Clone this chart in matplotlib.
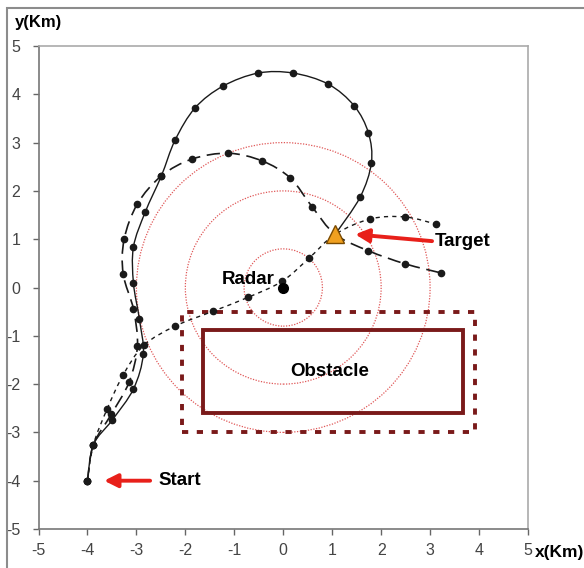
import matplotlib
matplotlib.use("Agg")
from matplotlib import pyplot as plt
from matplotlib.patches import Rectangle, Circle, PathPatch
from matplotlib.path import Path
import numpy as np

plt.rcParams['font.family'] = ['Liberation Sans', 'DejaVu Sans']
plt.rcParams['axes.unicode_minus'] = False

# trajectories (km)
path_solid_x = [-4.0, -3.88, -3.49, -3.06, -2.86, -2.94, -3.06, -3.06, -2.82, -2.49, -2.21, -1.80,
                -1.23, -0.51, 0.20, 0.92, 1.45, 1.74, 1.80, 1.57, 1.06]
path_solid_y = [-4.0, -3.26, -2.74, -2.10, -1.38, -0.65, 0.09, 0.84, 1.56, 2.31, 3.05, 3.72,
                4.17, 4.44, 4.44, 4.21, 3.76, 3.20, 2.58, 1.87, 1.10]

path_dash_x = [-4.0, -3.88, -3.51, -3.15, -2.98, -3.06, -3.27, -3.25, -2.98, -2.49, -1.86, -1.12,
               -0.43, 0.14, 0.59, 1.06, 1.74, 2.49, 3.23]
path_dash_y = [-4.0, -3.26, -2.62, -1.96, -1.21, -0.45, 0.28, 1.00, 1.73, 2.31, 2.66, 2.78,
               2.62, 2.27, 1.67, 1.10, 0.76, 0.49, 0.30]

path_dot_x = [-4.0, -3.88, -3.60, -3.27, -2.85, -2.21, -1.43, -0.71, -0.02, 0.53, 1.06, 1.78, 2.49, 3.13]
path_dot_y = [-4.0, -3.26, -2.52, -1.81, -1.20, -0.80, -0.49, -0.20, 0.13, 0.61, 1.10, 1.42, 1.46, 1.31]

radar = (0.0, 0.0)
target = (1.06, 1.10)
circle_radii = [0.8, 2.0, 3.0]

obstacle = (-1.64, -2.60, 3.67, -0.87)      # x0, y0, x1, y1
safety_zone = (-2.07, -3.0, 3.91, -0.51)


def smooth_path(xs, ys):
    # Excel-like smoothed line: cubic Bezier segments through the points
    p = np.column_stack([xs, ys])
    verts = [p[0]]
    codes = [Path.MOVETO]
    for i in range(len(p) - 1):
        p0 = p[i - 1] if i > 0 else p[i]
        p3 = p[i + 2] if i + 2 < len(p) else p[i + 1]
        c1 = p[i] + (p[i + 1] - p0) / 6.0
        c2 = p[i + 1] - (p3 - p[i]) / 6.0
        verts += [c1, c2, p[i + 1]]
        codes += [Path.CURVE4] * 3
    return Path(verts, codes)


fig = plt.figure(figsize=(5.84, 5.68), dpi=100)
# chart area frame (Excel style)
fig.patches.append(Rectangle((7 / 584, -0.1), 1.2, 1 - 8 / 568 + 0.1, transform=fig.transFigure,
                             fill=False, edgecolor='#8c8c8c', linewidth=1.5))
ax = fig.add_axes([38.5 / 584, 1 - 529 / 568, (528 - 38.5) / 584, (529 - 46) / 568])

ax.set_xlim(-5, 5)
ax.set_ylim(-5, 5)
ax.set_xticks(range(-5, 6))
ax.set_yticks(range(-5, 6))
ax.tick_params(direction='out', length=4, width=1, color='#666666', labelsize=11.5,
               labelcolor='#444444')
ax.tick_params(axis='y', pad=9)
ax.tick_params(axis='x', pad=6)
for side in ['left', 'bottom']:
    ax.spines[side].set_color('#777777')
    ax.spines[side].set_linewidth(1.2)
for side in ['top', 'right']:
    ax.spines[side].set_color('#aaaaaa')
    ax.spines[side].set_linewidth(1.2)

# radar coverage circles
for r in circle_radii:
    ax.add_patch(Circle(radar, r, fill=False, edgecolor='#e05858', linewidth=0.9,
                        linestyle=(0, (1, 1.2))))

# obstacle and safety zone
ax.add_patch(Rectangle((safety_zone[0], safety_zone[1]), safety_zone[2] - safety_zone[0],
                       safety_zone[3] - safety_zone[1], fill=False, edgecolor='#7a1a1a',
                       linewidth=2.8, linestyle=(0, (1.6, 2.2))))
ax.add_patch(Rectangle((obstacle[0], obstacle[1]), obstacle[2] - obstacle[0],
                       obstacle[3] - obstacle[1], fill=False, edgecolor='#7a1a1a', linewidth=2.8))

styles = [(path_solid_x, path_solid_y, '-', 1.0),
          (path_dash_x, path_dash_y, (0, (8, 4)), 1.2),
          (path_dot_x, path_dot_y, (0, (3, 3)), 1.0)]
for xs, ys, ls, lw in styles:
    ax.add_patch(PathPatch(smooth_path(xs, ys), fill=False, edgecolor='#1a1a1a',
                           linewidth=lw, linestyle=ls))
    ax.plot(xs, ys, linestyle='none', color='#1a1a1a', marker='o', markersize=4.5)

ax.plot(*radar, 'o', color='black', markersize=7)
ax.plot(*target, '^', color='#f0a020', markeredgecolor='#7a4a00', markersize=13, zorder=5)

bold = dict(fontweight='bold', fontsize=13.5)
ax.text(-0.18, 0.16, 'Radar', ha='right', va='center', **bold)
ax.text(3.1, 0.96, 'Target', ha='left', va='center', **bold)
ax.text(0.94, -1.73, 'Obstacle', ha='center', va='center', **bold)
ax.text(-2.55, -4.0, 'Start', ha='left', va='center', **bold)

arrow = dict(arrowstyle='-|>,head_length=0.8,head_width=0.4', color='#e8201a', linewidth=2.8,
             shrinkA=0, shrinkB=0)
ax.annotate('', xy=(1.47, 1.10), xytext=(3.04, 0.96), arrowprops=arrow)
ax.annotate('', xy=(-3.66, -4.0), xytext=(-2.72, -4.0), arrowprops=arrow)

fig.text(15 / 584, 1 - 22 / 568, 'y(Km)', ha='left', va='center', fontweight='bold', fontsize=12)
fig.text(535 / 584, 1 - 553 / 568, 'x(Km)', ha='left', va='center', fontweight='bold', fontsize=12.5)

fig.savefig('out.png', dpi=100)
